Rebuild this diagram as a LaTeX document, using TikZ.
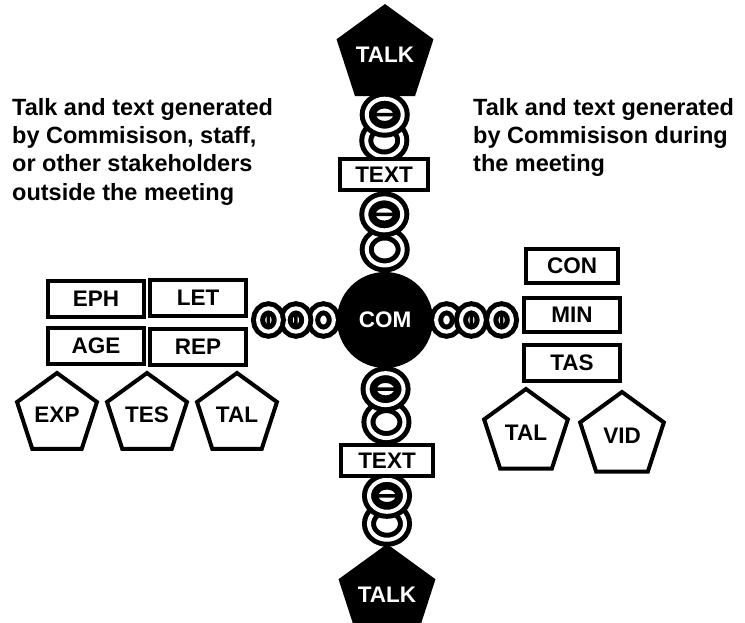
\documentclass[tikz,border=0pt]{standalone}
\usepackage{fontspec}
\setmainfont{Liberation Sans}
\usetikzlibrary{shapes.geometric,calc,backgrounds}

\tikzset{
  chainlink/.style={line width=5pt,double=white,double distance=4pt},
  pics/ringa/.style={code={
    \fill[white] (0pt,0pt) ellipse (24pt and 22pt);
    \draw[chainlink] (0pt,0pt) ellipse (18pt and 16pt);
    \draw[line width=3.5pt] (0pt,0pt) ellipse (10.5pt and 8pt) (-10.5pt,0pt) -- (10.5pt,0pt);
  }},
  pics/ringb/.style={code={
    \draw[chainlink] (0pt,0pt) ellipse (18pt and 16pt);
  }}
}

\newcommand{\vchain}[2]{%
  \pic at ($(#1)!0.72!(#2)$) {ringb};
  \pic at ($(#1)!0.28!(#2)$) {ringa};
}

\begin{document}
\begin{tikzpicture}[x=1pt,y=-1pt,
    lbl/.style={font=\fontsize{22.5}{27}\selectfont\bfseries},
    box/.style={lbl,draw,line width=4pt,fill=white,minimum width=96pt,minimum height=36pt,inner sep=0pt},
    pent/.style={lbl,regular polygon,regular polygon sides=5,draw,line width=4pt,fill=white,minimum size=88pt,inner sep=0pt},
    talk/.style={pent,fill=black,draw=none,text=white,minimum size=98pt},
    note/.style={font=\fontsize{23.5}{28.3}\selectfont\bfseries,align=left,anchor=north west,inner sep=0pt}]
  \useasboundingbox (0,0) rectangle (745,623);

  \node[talk] (talkT) at (385,55) {TALK};
  \node[box,minimum width=88pt,minimum height=31pt] (textT) at (384,174.5) {TEXT};
  \node[lbl,circle,fill=black,text=white,minimum size=96pt,inner sep=0pt] (com) at (385,320) {COM};
  \node[box,minimum width=92pt,minimum height=31pt] (textB) at (387,460.5) {TEXT};
  \node[talk] (talkB) at (387,595) {TALK};

  \node[box] (eph) at (96,299) {EPH};
  \node[box] (let) at (198,298) {LET};
  \node[box] (age) at (96,346) {AGE};
  \node[box] (rep) at (198,347) {REP};
  \node[pent,minimum size=84pt] (exp) at (57,415) {EXP};
  \node[pent,minimum size=84pt] (tes) at (147,415) {TES};
  \node[pent,minimum size=84pt] (tal) at (237,415) {TAL};

  \node[box,minimum width=92pt,minimum height=34pt] (con) at (572,266) {CON};
  \node[box,minimum height=34pt] (min) at (572,315) {MIN};
  \node[box] (tas) at (572,363) {TAS};
  \node[pent] (talR) at (526,433) {TAL};
  \node[pent] (vid) at (622,436) {VID};

  \node[note] (left) at (12,98) {Talk and text generated\\by Commisison, staff,\\or other stakeholders\\outside the meeting};
  \node[note] (right) at (473,98) {Talk and text generated\\by Commisison during\\the meeting};

  \coordinate (lend) at (let.east |- com.west);
  \coordinate (rend) at (min.west |- com.east);

  \begin{scope}[on background layer]
    \vchain{talkT.south}{textT.north}
    \vchain{textT.south}{com.north}
    \vchain{com.south}{textB.north}
    \vchain{textB.south}{talkB.north}
    \pic[rotate=90,scale=0.65] at ($(lend)!0.85!(com.west)$) {ringb};
    \pic[rotate=90,scale=0.65] at ($(lend)!0.54!(com.west)$) {ringa};
    \pic[rotate=90,scale=0.65] at ($(lend)!0.23!(com.west)$) {ringa};
    \pic[rotate=90,scale=0.65] at ($(com.east)!0.15!(rend)$) {ringb};
    \pic[rotate=90,scale=0.65] at ($(com.east)!0.43!(rend)$) {ringa};
    \pic[rotate=90,scale=0.65] at ($(com.east)!0.77!(rend)$) {ringa};
  \end{scope}
\end{tikzpicture}
\end{document}
